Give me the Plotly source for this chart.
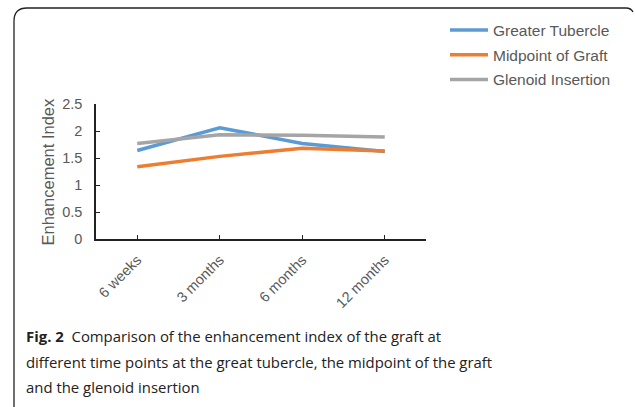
import plotly.graph_objects as go

categories = ["6 weeks", "3 months", "6 months", "12 months"]
greater_tubercle = [1.64, 2.06, 1.77, 1.62]
midpoint_of_graft = [1.34, 1.53, 1.68, 1.63]
glenoid_insertion = [1.77, 1.93, 1.92, 1.89]
series_names = ["Greater Tubercle", "Midpoint of Graft", "Glenoid Insertion"]
series_colors = ["#5B9BD5", "#ED7D31", "#A5A5A5"]
y_ticks = [0, 0.5, 1, 1.5, 2, 2.5]
y_ticklabels = ["0", "0.5", "1", "1.5", "2", "2.5"]

W, H = 635, 407
def px(x): return x / W
def py(y): return 1 - y / H

fig = go.Figure()
for name, vals, col in zip(series_names, [greater_tubercle, midpoint_of_graft, glenoid_insertion], series_colors):
    fig.add_trace(go.Scatter(x=categories, y=vals, mode="lines", name=name,
                             legendgroup=name,
                             line=dict(color=col, width=3.5)))

axis_font = dict(family="Liberation Sans, Arial, sans-serif", color="#595959")

fig.update_layout(
    width=W, height=H,
    margin=dict(l=0, r=0, t=0, b=0, autoexpand=False),
    paper_bgcolor="white", plot_bgcolor="white",
    showlegend=True,
    legend=dict(x=px(445), y=py(13.5), xanchor="left", yanchor="top",
                font=dict(family="Liberation Sans, Arial, sans-serif", size=15.5, color="#595959"),
                tracegroupgap=1.5, itemwidth=38, bgcolor="rgba(0,0,0,0)"),
    xaxis=dict(domain=[px(96), px(426)], range=[-0.5, 3.5], type="category",
               automargin=False,
               showline=True, linecolor="#222", linewidth=1.5,
               ticks="inside", ticklen=4, tickcolor="#222", tickwidth=1.3,
               tickangle=-45, tickfont=dict(size=14.5, **axis_font),
               showgrid=False, zeroline=False, ticklabelstandoff=5),
    yaxis=dict(domain=[py(239), py(104)], range=[0, 2.5],
               automargin=False,
               tickvals=y_ticks, ticktext=y_ticklabels,
               showline=True, linecolor="#222", linewidth=1.5,
               ticks="inside", ticklen=4, tickcolor="#222", tickwidth=1.3,
               tickfont=dict(size=14.5, **axis_font),
               showgrid=False, zeroline=False, ticklabelstandoff=9),
)

fig.add_annotation(text="Enhancement Index", x=px(47), y=py(171.5), xref="paper", yref="paper",
                   textangle=-90, showarrow=False, xanchor="center", yanchor="middle",
                   font=dict(family="Liberation Sans, Arial, sans-serif", size=16.5, color="#595959"))

# frame
r = 13
path = (f"M {px(14)},{py(407)} L {px(14)},{py(8 + r)} "
        f"Q {px(14)},{py(8)} {px(14 + r)},{py(8)} "
        f"L {px(626)},{py(8)} Q {px(631)},{py(8)} {px(633)},{py(12)}")
fig.add_shape(type="path", path=path, xref="paper", yref="paper",
              line=dict(color="#222", width=1.3))

cap_font = dict(family="Open Sans, Noto Sans, sans-serif", size=14.9, color="#222")
caption_lines = [
    "<b>Fig. 2</b>  Comparison of the enhancement index of the graft at",
    "different time points at the great tubercle, the midpoint of the graft",
    "and the glenoid insertion",
]
for i, line in enumerate(caption_lines):
    fig.add_annotation(text=line, x=px(24), y=py(336 + 25.5 * i), xref="paper", yref="paper",
                       showarrow=False, xanchor="left", yanchor="middle", font=cap_font)

fig.write_html("out.html", config={"displayModeBar": False},
               post_script="document.body.style.margin='0';")
